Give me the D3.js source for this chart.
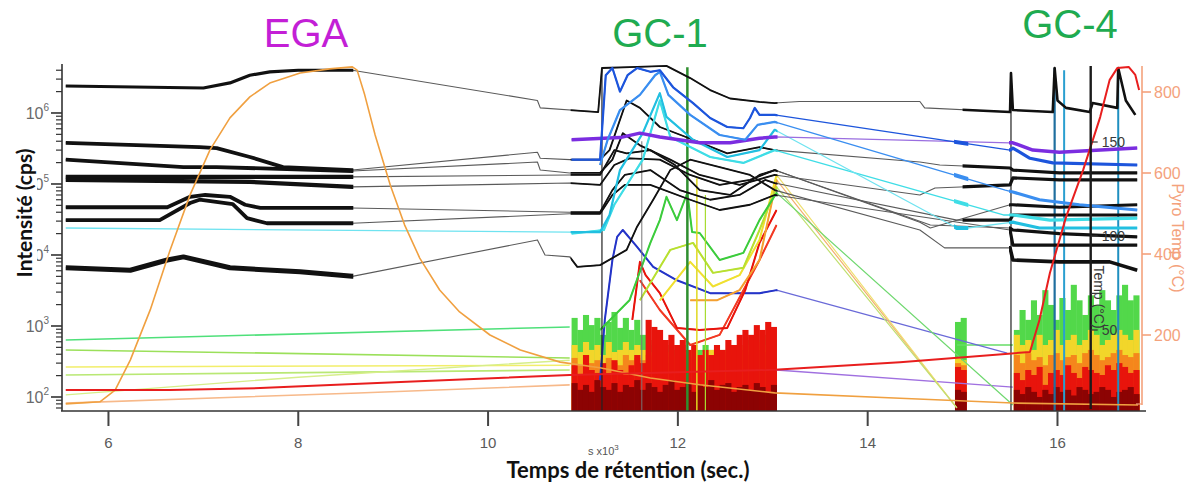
<!DOCTYPE html>
<html><head><meta charset="utf-8">
<script src="https://cdn.jsdelivr.net/npm/d3@7"></script>
<style>body{margin:0;background:#fff}svg{display:block}</style>
</head><body><svg id="c" width="1188" height="488"></svg>
<script>
// ---------------- DATA ----------------
const xTicks = [6, 8, 10, 12, 14, 16];
const yTicks = [1e2, 1e3, 1e4, 1e5, 1e6];
const pyroTicks = [200, 400, 600, 800];
const gcTempTicks = [50, 100, 150];
const sectionTitles = ["EGA", "GC-1", "GC-4"];

// black ion traces (time in 10^3 s, intensity in cps)
const black1 = [[5.55,2.4e6],[7.0,2.25e6],[7.28,2.65e6],[7.49,3.4e6],[7.70,3.8e6],[8.0,4.0e6],[8.57,4.0e6],[10.52,1.5e6],[10.55,1.18e6],[11.16,1.03e6],[11.20,4.3e6],[11.57,4.45e6],[11.88,4.6e6],[12.13,3.1e6],[12.34,2.1e6],[12.55,1.6e6],[12.86,1.43e6],[13.02,1.38e6],[13.28,1.45e6],[14.55,1.45e6],[14.60,1.18e6],[15.50,1.03e6],[15.51,3.65e6],[15.53,1.1e6],[15.95,1.03e6],[15.97,4.3e6],[16.0,1.5e6],[16.09,1.18e6],[16.34,1.03e6],[16.37,1.38e6],[16.63,1.18e6],[16.64,4.3e6],[16.72,1.5e6],[16.82,9.4e5]];
const black2 = [[5.55,3.8e5],[6.96,3.3e5],[7.14,3.2e5],[7.49,2.4e5],[7.84,1.73e5],[8.57,1.57e5],[10.52,2.8e5],[10.55,2.3e5],[10.86,2.2e5],[11.18,2.2e5],[11.28,3.0e5],[11.46,1.5e6],[11.60,1.18e6],[11.81,6.35e5],[12.16,4.2e5],[12.52,2.7e5],[12.86,3.3e5],[13.02,3.0e5],[14.55,2.04e5],[14.76,1.85e5],[15.50,1.68e5],[15.53,1.57e5],[16.02,1.43e5],[16.84,1.43e5]];
const black3 = [[5.55,2.2e5],[6.79,1.73e5],[7.14,1.73e5],[8.57,1.52e5],[10.52,2.04e5],[10.55,1.57e5],[10.86,1.43e5],[11.18,1.43e5],[11.31,2.2e5],[11.42,5.2e5],[11.60,3.5e5],[11.92,2.2e5],[12.23,1.34e5],[12.65,9.7e4],[13.02,1.34e5],[14.55,7.0e4],[14.71,8.8e4],[15.50,9.7e4],[15.53,1.22e5],[16.02,1.14e5],[16.84,1.14e5]];
const black4 = [[5.55,1.26e5],[8.57,1.26e5],[10.86,1.34e5],[11.18,1.34e5],[11.33,3.0e5],[11.46,2.7e5],[11.71,3.0e5],[11.97,1.85e5],[12.23,8.2e4],[12.55,7.0e4],[12.86,1.34e5],[13.02,1.57e5],[14.55,2.9e4],[14.66,2.4e4],[15.50,5.1e4],[15.53,5.1e4],[16.02,4.7e4],[16.84,5.1e4]];
const black5 = [[5.55,1.14e5],[7.49,1.07e5],[8.57,9.1e4],[10.86,1.03e5],[11.18,9.7e4],[11.33,1.85e5],[11.49,2.3e5],[11.81,2.2e5],[12.13,1.34e5],[12.44,9.7e4],[12.76,1.14e5],[13.02,1.57e5],[14.66,2.65e4],[15.50,2.4e4],[15.53,2.25e4],[16.02,2.0e4],[16.84,1.8e4]];
const black6 = [[5.55,4.7e4],[6.62,4.7e4],[6.86,6.6e4],[7.02,7.0e4],[7.28,6.6e4],[7.44,5.1e4],[7.60,4.6e4],[8.57,4.6e4],[10.86,4.0e4],[11.18,4.0e4],[11.31,8.2e4],[11.44,1.34e5],[11.71,1.57e5],[12.02,8.2e4],[12.34,6.0e4],[12.65,7.0e4],[12.92,1.14e5],[13.02,1.03e5],[14.94,3.1e4],[15.50,3.1e4],[15.53,3.66e4],[16.02,3.66e4],[16.84,3.66e4]];
const black7 = [[5.55,3.1e4],[6.54,3.1e4],[6.86,5.4e4],[6.96,6.0e4],[7.31,5.2e4],[7.46,3.3e4],[7.67,2.8e4],[8.57,2.8e4],[10.86,3.8e4],[11.18,3.8e4],[11.31,7.0e4],[11.44,9.7e4],[11.71,9.7e4],[12.13,6.0e4],[12.44,4.3e4],[12.76,5.1e4],[13.02,7.0e4],[15.50,2.25e4],[15.53,1.38e4],[16.02,1.38e4],[16.84,1.38e4]];
const black8 = [[5.55,6.6e3],[6.23,6.1e3],[6.62,8.5e3],[6.79,9.4e3],[7.28,6.6e3],[8.02,5.8e3],[8.57,5.0e3],[10.52,1.63e4],[10.60,1.0e4],[10.86,9.4e3],[10.94,6.8e3],[11.18,7.2e3],[11.46,1.18e4],[11.57,2.5e4],[11.74,6.0e4],[11.92,1.57e5],[12.13,2.2e5],[12.44,1.73e5],[12.76,1.34e5],[13.02,8.2e4],[14.55,2.25e4],[14.81,1.26e4],[15.50,1.26e4],[15.53,8.5e3],[16.02,8.0e3],[16.55,8.0e3],[16.84,6.1e3]];

// coloured ion traces
const blue1 = [[10.88,2.2e5],[11.18,2.2e5],[11.24,3.4e6],[11.31,4.3e6],[11.39,2.0e6],[11.47,3.4e6],[11.57,4.3e6],[11.71,3.8e6],[11.81,4.0e6],[11.95,2.3e6],[12.16,1.38e6],[12.34,8.5e5],[12.52,6.35e5],[12.69,6.1e5],[12.76,8.5e5],[12.81,1.18e6],[12.86,9.4e5],[13.02,9.4e5],[15.50,3.0e5],[15.53,3.2e5],[15.71,2.3e5],[15.95,1.98e5],[16.84,1.85e5]];
const blue2 = [[11.18,1.85e5],[11.26,4.2e5],[11.39,1.1e6],[11.60,1.8e6],[11.76,3.4e6],[11.81,3.8e6],[11.90,1.8e6],[12.13,9.4e5],[12.44,4.9e5],[12.71,4.2e5],[12.84,6.8e5],[13.02,7.5e5],[15.45,8.2e4],[15.53,7.7e4],[15.81,6.0e4],[16.23,5.1e4],[16.84,4.3e4]];
const purple = [[10.88,4.2e5],[11.39,4.5e5],[11.60,5.2e5],[11.81,4.6e5],[12.23,3.8e5],[12.55,3.8e5],[12.86,4.4e5],[13.02,4.6e5],[15.50,3.8e5],[15.53,3.8e5],[15.74,3.0e5],[16.02,2.8e5],[16.84,3.2e5]];
const cyan1 = [[5.55,2.4e4],[10.86,2.1e4],[10.88,2.1e4],[11.18,2.1e4],[11.28,3.66e4],[11.39,1.57e5],[11.63,5.2e5],[11.81,1.9e6],[11.88,8.8e5],[12.16,4.2e5],[12.52,2.4e5],[12.86,3.0e5],[13.02,5.8e5],[14.94,2.4e4],[15.05,2.4e4],[15.53,2.9e4],[15.81,2.4e4],[16.84,2.4e4]];
const cyan2 = [[10.88,2.0e4],[11.22,2.25e4],[11.33,5.1e4],[11.63,2.2e5],[11.81,1.5e6],[11.92,4.6e5],[12.34,2.4e5],[12.69,1.98e5],[13.02,3.0e5],[15.43,3.66e4],[15.53,3.66e4],[15.92,3.1e4],[16.84,3.3e4]];
const darkBlue = [[11.18,173],[11.23,1.22e3],[11.31,8.5e3],[11.36,1.8e4],[11.42,2.25e4],[11.57,1.3e4],[11.74,6.8e3],[11.99,4.4e3],[12.34,2.9e3],[12.86,2.9e3],[13.04,3.2e3],[15.47,415]];
const greenPk = [[11.18,880],[11.49,2.3e3],[11.71,1.48e4],[11.81,3.1e4],[11.88,6.6e4],[11.99,3.1e4],[12.10,7.5e4],[12.15,2.1e4],[12.23,2.04e4],[12.44,8.5e3],[12.69,1.07e4],[12.86,3.1e4],[13.04,7.5e4],[15.53,77]];
const ygPk = [[11.60,2.3e3],[11.92,1.18e4],[12.16,1.48e4],[12.37,5.6e3],[12.69,6.6e3],[12.86,2.25e4],[13.04,9.1e4],[14.94,70]];
const yellowPk = [[11.81,2.3e3],[12.13,8.0e3],[12.37,3.6e3],[12.65,5.2e3],[12.86,1.63e4],[13.04,1.34e5],[14.94,70]];
const orangePk = [[12.13,2.3e3],[12.41,2.3e3],[12.65,3.2e3],[12.86,8.5e3],[13.04,1.14e5],[14.94,70]];
const redPk = [[11.52,1.22e3],[11.60,8.0e3],[11.66,5.2e3],[11.81,2.9e3],[11.99,940],[12.23,880],[12.52,940],[12.71,3.2e3],[12.86,1.48e4],[13.04,4.3e4]];
const redPk2 = [[11.60,4.4e3],[11.81,1.68e3],[12.13,540],[12.44,750],[12.86,8.5e3],[13.04,2.65e4]];

// faint EGA-period traces and links
const greenFlat = [[5.55,635],[10.86,970]];
const lgFlat = [[5.55,460],[10.86,355]];
const yellowFlat = [[5.55,265],[10.86,280]];
const ygFlat = [[5.55,204],[10.86,240]];
const ygRise = [[5.55,107],[8.0,190],[10.86,330]];
const peachFlat = [[5.55,82],[8.63,114],[10.86,148]];
const purpleLow = [[13.04,240],[15.53,138]];
const greenLink = [[14.94,540],[15.53,540]];

// temperatures (right axis, °C)
const egaTemp = [[5.55,30],[5.91,35],[6.07,64],[6.23,138],[6.44,262],[6.65,410],[6.86,546],[7.07,657],[7.28,736],[7.49,788],[7.70,822],[8.02,847],[8.33,857],[8.57,862],[8.62,854],[8.70,793],[8.81,694],[8.97,570],[9.12,472],[9.28,390],[9.49,311],[9.70,257],[10.02,200],[10.34,163],[10.76,133],[11.18,119],[11.71,94],[12.23,77],[13.02,57],[14.34,44],[15.53,32],[16.85,27]];
const pyroTemp = [[5.55,64],[6.65,64],[7.60,69],[9.08,84],[10.86,101],[13.02,114],[14.34,133],[15.71,158],[15.81,237],[15.92,353],[16.09,491],[16.27,607],[16.45,738],[16.55,830],[16.63,859],[16.75,862],[16.82,842],[16.86,805]];

// sharp chromatographic peaks (time, apex intensity)
const gc1Peaks = [[11.20,4.3e6],[11.62,4.0e5],[12.10,4.4e6],[12.20,1.2e5],[12.29,7.0e4]];
const gc4Peaks = [[15.51,3.65e6],[15.97,4.3e6],[16.07,4.0e6],[16.64,4.3e6]];

// signal-intensity bands (upper envelope per time slice)
const gc1Times = [10.88,10.94,11.00,11.06,11.12,11.18,11.24,11.30,11.36,11.42,11.48,11.54,11.60,11.66,11.72,11.78,11.84,11.90,11.96,12.02,12.08,12.14,12.20,12.26,12.32,12.38,12.44,12.50,12.56,12.62,12.68,12.74,12.80,12.86,12.92,12.98];
const gc1Green = [1300,880,1430,1030,1300,750,1140,1575,940,1300,880,1220,750,635,540,460,540,390,460,540,460,390,460,540,460,390,460,390,540,460,540,635,540,635,750,635];
const gc1Yellow = [540,430,595,460,540,390,595,430,460,595,460,540,460,430,390,365,430,390,365,430,390,460,390,430,460,390,430,460,540,430,540,460,595,540,460,540];
const gc1Orange = [355,280,390,300,330,265,355,300,280,390,330,355,330,390,365,330,300,365,330,390,365,300,330,390,355,330,390,430,390,460,430,390,460,430,390,355];
const gc1Red = [280,204,390,240,218,300,204,330,240,204,280,390,300,1220,970,880,635,750,540,635,460,540,390,460,390,540,460,635,540,750,880,750,1030,880,1140,970];
const gc1DarkRed = [157,126,148,118,173,138,126,157,118,148,138,173,126,157,138,118,148,173,126,138,157,118,148,138,173,126,148,157,118,138,148,126,157,138,118,148];

const midTimes = [14.92,14.98];
const midGreen = [1140,1300];
const midYellow = [365,330];
const midOrange = [300,280];
const midRed = [265,240];
const midDarkRed = [126,118];

const gc4Times = [15.54,15.60,15.66,15.72,15.78,15.84,15.90,15.96,16.02,16.08,16.14,16.20,16.26,16.32,16.38,16.44,16.50,16.56,16.62,16.68,16.74,16.80];
const gc4Green = [880,1680,1220,2300,1430,3200,1980,1220,2480,1680,3800,2300,1430,2700,1980,3200,2300,1680,2700,3800,2300,2700];
const gc4Yellow = [750,540,635,460,750,540,635,880,540,635,750,540,635,880,750,540,635,750,880,750,635,880];
const gc4Orange = [390,300,415,330,365,280,390,415,330,365,390,300,415,460,390,330,365,415,460,390,365,415];
const gc4Red = [218,173,240,204,265,148,218,240,204,280,218,185,265,240,218,204,280,240,300,265,218,240];
const gc4DarkRed = [126,110,138,118,100,126,110,138,118,126,105,138,126,110,118,138,126,100,118,126,138,110];

// ---------------- CHART ----------------
const svg = d3.select("#c");
const x = d3.scaleLinear().domain([5.52, 16.9]).range([62.9, 1142.9]);
const y = d3.scaleLog().domain([63.5, 4.74e6]).range([411, 65]);
const yT = d3.scaleLinear().domain([0, 800]).range([416, 92]);
const yG = d3.scaleLinear().domain([50, 150]).range([330, 142]);
const NARROW = "'Liberation Sans Narrow','Arial Narrow','Liberation Sans',Arial,sans-serif";

const defs = svg.append("defs");
function makeClip(id, wins) {
  defs.append("clipPath").attr("id", id).selectAll("rect").data(wins).join("rect")
    .attr("x", d => x(d[0])).attr("width", d => x(d[1]) - x(d[0]))
    .attr("y", 40).attr("height", 380);
}
makeClip("plot", [[5.52, 16.9]]);
makeClip("cEGA", [[5.52, 8.58]]);
makeClip("cGC1", [[10.87, 13.05]]);
makeClip("cMid", [[14.91, 15.06]]);
makeClip("cGC4a", [[15.0, 16.9]]);
makeClip("cGC4", [[15.49, 16.9]]);

const plot = svg.append("g").attr("clip-path", "url(#plot)");

// intensity bands
function band(times, step, layers) {
  const w = x(times[0] + step) - x(times[0]) + 0.4;
  layers.forEach(([vals, col]) => {
    plot.append("g").selectAll("rect").data(times.map((t, i) => [t, vals[i]])).join("rect")
      .attr("x", d => x(d[0])).attr("width", w)
      .attr("y", d => y(d[1])).attr("height", d => y.range()[0] - y(d[1]))
      .attr("fill", col);
  });
}
const bandColors = ["#52d84a", "#f2d62a", "#f5861c", "#e8140c", "#8c0303"];
band(gc1Times, 0.06, [[gc1Green, bandColors[0]], [gc1Yellow, bandColors[1]], [gc1Orange, bandColors[2]], [gc1Red, bandColors[3]], [gc1DarkRed, bandColors[4]]]);
band(midTimes, 0.06, [[midGreen, bandColors[0]], [midYellow, bandColors[1]], [midOrange, bandColors[2]], [midRed, bandColors[3]], [midDarkRed, bandColors[4]]]);
band(gc4Times, 0.06, [[gc4Green, bandColors[0]], [gc4Yellow, bandColors[1]], [gc4Orange, bandColors[2]], [gc4Red, bandColors[3]], [gc4DarkRed, bandColors[4]]]);

const lineL = d3.line().x(d => x(d[0])).y(d => y(d[1]));
const lineT = d3.line().x(d => x(d[0])).y(d => yT(d[1]));

function trace(data, color, thinW, thick, gen, thinColor) {
  gen = gen || lineL;
  plot.append("path").datum(data).attr("d", gen).attr("fill", "none")
    .attr("stroke", thinColor || color).attr("stroke-width", thinW).attr("stroke-linejoin", "round");
  (thick || []).forEach(([clip, w]) => {
    plot.append("g").attr("clip-path", `url(#${clip})`).append("path").datum(data).attr("d", gen)
      .attr("fill", "none").attr("stroke", color).attr("stroke-width", w).attr("stroke-linejoin", "round");
  });
}

// faint lines
trace(greenFlat, "#4fe07a", 1.6);
trace(lgFlat, "#9be05a", 1.6);
trace(yellowFlat, "#f2ee6a", 1.6);
trace(ygFlat, "#b9e874", 1.6);
trace(ygRise, "#d6ee8a", 1.4);
trace(peachFlat, "#f7b98a", 1.6);
trace(purpleLow, "#a070e0", 1.3);
trace(greenLink, "#66dd66", 1.3);

// coloured GC peaks
const gcThick = [["cGC1", 2]];
trace(darkBlue, "#2434c8", 1.2, gcThick, null, "#6a6ad8");
trace(redPk2, "#f23a24", 1.2, gcThick);
trace(redPk, "#e8140c", 1.2, gcThick);
trace(orangePk, "#f4a030", 1.2, gcThick, null, "#f3b070");
trace(yellowPk, "#f0e030", 1.2, gcThick, null, "#efe070");
trace(ygPk, "#b8e030", 1.2, gcThick, null, "#c0e070");
trace(greenPk, "#3ccc3c", 1.2, gcThick, null, "#70d870");

// sharp peaks
const gc1PeakColors = ["#222", "#777", "#2f8f2f", "#e0d820", "#a8dc30"];
const gc4PeakColors = ["#222", "#1f6f9f", "#2a9fd0", "#1f8fc0"];
function peaks(data, colors, widths) {
  plot.append("g").selectAll("line").data(data).join("line")
    .attr("x1", d => x(d[0])).attr("x2", d => x(d[0]))
    .attr("y1", d => y(d[1])).attr("y2", y.range()[0])
    .attr("stroke", (d, i) => colors[i]).attr("stroke-width", (d, i) => widths[i]);
}
peaks(gc1Peaks, gc1PeakColors, [1.2, 1, 2.5, 1.5, 1.2]);
peaks(gc4Peaks, gc4PeakColors, [1.2, 2.2, 2, 2]);

// black traces
const blk = "#111", blkThin = "#5a5a5a";
trace(black1, blk, 1.1, [["cEGA", 3.2], ["cGC1", 1.8], ["cGC4a", 2.6]], null, blkThin);
trace(black2, blk, 1.1, [["cEGA", 3.8], ["cGC1", 1.8], ["cGC4a", 3.2]], null, blkThin);
trace(black3, blk, 1.1, [["cEGA", 3.8], ["cGC1", 1.8], ["cGC4a", 3.2]], null, blkThin);
trace(black4, blk, 1.1, [["cEGA", 4.2], ["cGC1", 1.8], ["cGC4", 3.2]], null, blkThin);
trace(black5, blk, 1.1, [["cEGA", 4.2], ["cGC1", 1.8], ["cGC4", 3.2]], null, blkThin);
trace(black6, blk, 1.1, [["cEGA", 3.8], ["cGC1", 1.8], ["cGC4a", 3.2]], null, blkThin);
trace(black7, blk, 1.1, [["cEGA", 3.8], ["cGC1", 1.8], ["cGC4", 3.2]], null, blkThin);
trace(black8, blk, 1.1, [["cEGA", 5], ["cGC1", 1.8], ["cGC4", 3.6]], null, blkThin);

// blue / purple / cyan traces
const bandThick = [["cGC1", 2.2], ["cMid", 4], ["cGC4", 3.2]];
trace(cyan2, "#3fdde6", 1.3, bandThick);
trace(cyan1, "#22bfe0", 1.3, bandThick, null, "#6fe3f0");
trace(purple, "#7b2de0", 1.3, [["cGC1", 3.5], ["cGC4", 3.5]], null, "#9a6ee0");
trace(blue2, "#3a8ef0", 1.3, bandThick);
trace(blue1, "#1d55dc", 1.3, bandThick);

// inner GC oven temperature axis
const gx = x(16.35);
const gAx = svg.append("g");
gAx.append("line").attr("x1", gx).attr("x2", gx).attr("y1", 66).attr("y2", 409)
  .attr("stroke", "#1b1b1b").attr("stroke-width", 2.4);
gAx.selectAll(".t").data(gcTempTicks).join("line")
  .attr("x1", gx).attr("x2", gx + 7).attr("y1", d => yG(d)).attr("y2", d => yG(d))
  .attr("stroke", "#333").attr("stroke-width", 1.2);
gAx.selectAll("text.lab").data(gcTempTicks).join("text").attr("class", "lab")
  .attr("x", gx + 11).attr("y", d => yG(d) + 5).text(d => d)
  .attr("font-family", NARROW).attr("font-size", 14).attr("fill", "#3a3a3a");
gAx.append("text").attr("transform", `translate(${gx + 3},297) rotate(90)`)
  .attr("text-anchor", "middle").attr("font-family", NARROW).attr("font-size", 14)
  .attr("fill", "#3a3a3a").text("Temp (°C)");

// temperature curves
trace(egaTemp, "#f0a040", 1.6, null, lineT);
trace(pyroTemp, "#e81e1e", 2, null, lineT);

// ---------------- AXES ----------------
const ax = svg.append("g");
// x axis
ax.append("line").attr("x1", 61).attr("x2", 1146).attr("y1", 411).attr("y2", 411)
  .attr("stroke", "#333").attr("stroke-width", 1.6);
ax.selectAll(".xt").data(xTicks).join("line").attr("class", "xt")
  .attr("x1", d => x(d)).attr("x2", d => x(d)).attr("y1", 411).attr("y2", 426)
  .attr("stroke", "#444").attr("stroke-width", 2);
ax.selectAll(".xl").data(xTicks).join("text").attr("class", "xl")
  .attr("x", d => x(d)).attr("y", 448).attr("text-anchor", "middle")
  .attr("font-family", NARROW).attr("font-size", 15).attr("fill", "#5a5a5a").text(d => d);

// y axis (log)
ax.append("line").attr("x1", 62).attr("x2", 62).attr("y1", 64).attr("y2", 411)
  .attr("stroke", "#333").attr("stroke-width", 1.6);
const yMinor = [];
for (let e = 1; e <= 6; e++) for (let k = 2; k <= 9; k++) {
  const v = k * Math.pow(10, e);
  if (v > y.domain()[0] && v < y.domain()[1]) yMinor.push(v);
}
ax.selectAll(".ym").data(yMinor).join("line").attr("class", "ym")
  .attr("x1", 56).attr("x2", 62).attr("y1", d => y(d)).attr("y2", d => y(d))
  .attr("stroke", "#333").attr("stroke-width", 1.2);
ax.selectAll(".yM").data(yTicks).join("line").attr("class", "yM")
  .attr("x1", 51).attr("x2", 62).attr("y1", d => y(d)).attr("y2", d => y(d))
  .attr("stroke", "#333").attr("stroke-width", 1.6);
const yl = ax.selectAll(".yl").data(yTicks).join("text").attr("class", "yl")
  .attr("x", 49).attr("y", d => y(d) + 6).attr("text-anchor", "end")
  .attr("font-family", NARROW).attr("font-size", 16).attr("fill", "#6a6a6a");
yl.append("tspan").text("10");
yl.append("tspan").attr("dy", -8).attr("font-size", 10).text(d => Math.round(Math.log10(d)));

// right pyro temperature axis
const rc = "#f4a27c";
ax.append("line").attr("x1", 1142).attr("x2", 1142).attr("y1", 66).attr("y2", 405)
  .attr("stroke", rc).attr("stroke-width", 1.6);
ax.selectAll(".rt").data(pyroTicks).join("line").attr("class", "rt")
  .attr("x1", 1142).attr("x2", 1151).attr("y1", d => yT(d)).attr("y2", d => yT(d))
  .attr("stroke", rc).attr("stroke-width", 1.6);
ax.append("line").attr("x1", 1136).attr("x2", 1142).attr("y1", 404).attr("y2", 404)
  .attr("stroke", rc).attr("stroke-width", 1.2);
ax.selectAll(".rl").data(pyroTicks).join("text").attr("class", "rl")
  .attr("x", 1154).attr("y", d => yT(d) + 6).attr("font-family", NARROW)
  .attr("font-size", 16).attr("fill", rc).text(d => d);
ax.append("text").attr("transform", "translate(1172,238) rotate(90)").attr("text-anchor", "middle")
  .attr("font-family", NARROW).attr("font-size", 16).attr("fill", rc).text("Pyro Temp (°C)");

// axis titles
svg.append("rect").attr("x", 10).attr("y", 140).attr("width", 27).attr("height", 148).attr("fill", "#fff");
svg.append("text").attr("transform", "translate(32,213) rotate(-90)").attr("text-anchor", "middle")
  .attr("font-family", "Lato,'Open Sans',sans-serif").attr("font-weight", "bold").attr("font-size", 21)
  .attr("fill", "#111").text("Intensité (cps)");
svg.append("text").attr("x", 628).attr("y", 478).attr("text-anchor", "middle")
  .attr("font-family", "Lato,'Open Sans',sans-serif").attr("font-weight", "bold").attr("font-size", 22)
  .attr("fill", "#111").text("Temps de rétention (sec.)");
const sx = svg.append("text").attr("x", 588).attr("y", 455).attr("font-family", NARROW)
  .attr("font-size", 11).attr("fill", "#555");
sx.append("tspan").text("s x10");
sx.append("tspan").attr("dy", -5).attr("font-size", 8).text("3");

// section titles
const titleX = [306, 660, 1070], titleY = [47, 47, 38], titleC = ["#c31fd6", "#1fab50", "#1fab50"];
svg.selectAll(".st").data(sectionTitles).join("text").attr("class", "st")
  .attr("x", (d, i) => titleX[i]).attr("y", (d, i) => titleY[i]).attr("text-anchor", "middle")
  .attr("font-family", "'Liberation Sans',Arial,sans-serif").attr("font-size", 40)
  .attr("fill", (d, i) => titleC[i]).text(d => d);
</script></body></html>
